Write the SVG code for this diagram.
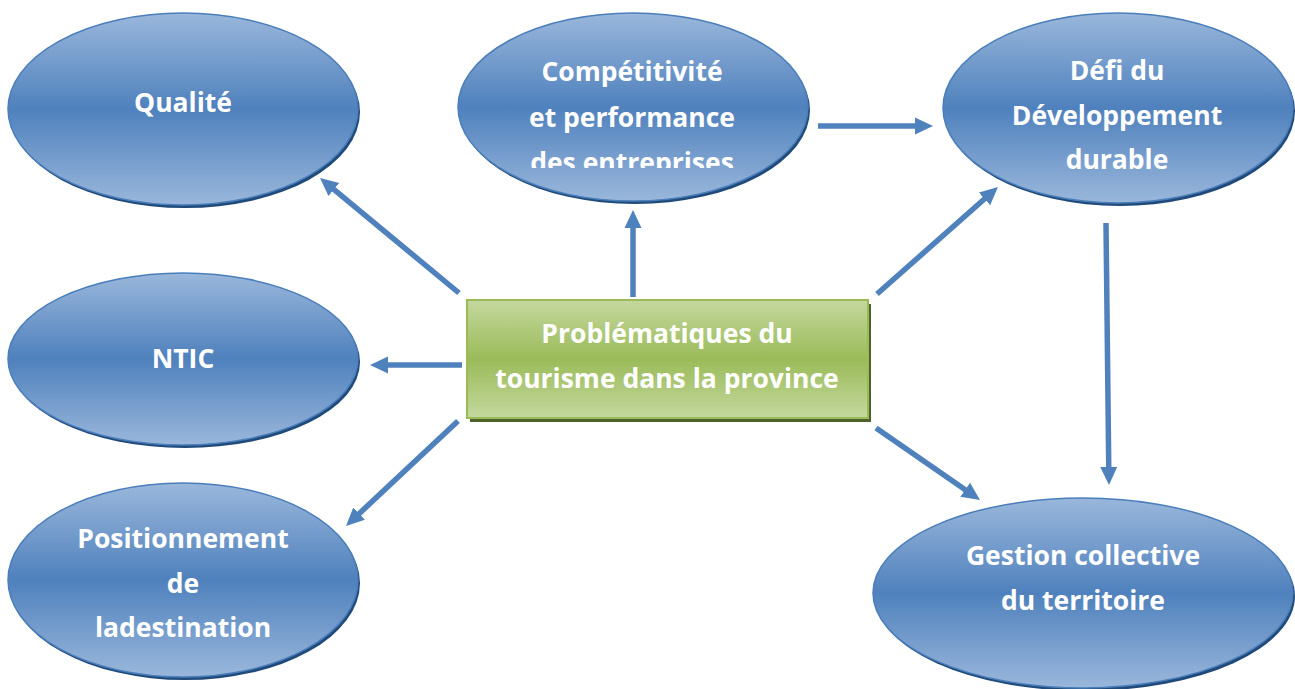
<svg xmlns="http://www.w3.org/2000/svg" width="1295" height="689" viewBox="0 0 1295 689">
<style>
.ell{fill:url(#blueGrad);stroke:#4a7ebb;stroke-width:1.5}
.sh{fill:#1f4a7a}
.lbl{font-family:"Open Sans","Liberation Sans",sans-serif;font-weight:700;font-size:26.5px;fill:#ffffff;text-anchor:middle}
.conn{stroke:#4f81bd;stroke-width:5.5;fill:none;marker-end:url(#head)}
</style>
<defs>
<linearGradient id="blueGrad" x1="0" y1="0" x2="0" y2="1">
<stop offset="0" stop-color="#9ab7db"/>
<stop offset="0.5" stop-color="#4f81bd"/>
<stop offset="1" stop-color="#9ab7db"/>
</linearGradient>
<linearGradient id="greenGrad" x1="0" y1="0" x2="0" y2="1">
<stop offset="0" stop-color="#c4d89e"/>
<stop offset="0.5" stop-color="#9bbb59"/>
<stop offset="1" stop-color="#c4d89e"/>
</linearGradient>
<marker id="head" markerUnits="userSpaceOnUse" markerWidth="20" markerHeight="20" refX="4" refY="9" orient="auto">
<path d="M0,0.5 L18,9 L0,17.5 z" fill="#4f81bd"/>
</marker>
<clipPath id="clipComp"><rect x="450" y="0" width="380" height="168"/></clipPath>
</defs>

<g id="connectors">
<line class="conn" x1="459" y1="293" x2="330.8" y2="186.9"/>
<line class="conn" x1="633" y1="297" x2="633" y2="224"/>
<line class="conn" x1="818" y1="126" x2="919" y2="126"/>
<line class="conn" x1="877" y1="294" x2="987.5" y2="196.3"/>
<line class="conn" x1="462" y1="365" x2="384" y2="365"/>
<line class="conn" x1="458" y1="421" x2="356.2" y2="516.4"/>
<line class="conn" x1="876" y1="428" x2="968.5" y2="492"/>
<line class="conn" x1="1106" y1="223" x2="1108.8" y2="471"/>
</g>

<g id="qualite">
<ellipse class="sh" cx="185" cy="112" rx="175" ry="96"/>
<ellipse class="ell" cx="183" cy="109" rx="175" ry="96"/>
<text class="lbl" x="183" y="112">Qualité</text>
</g>

<g id="competitivite">
<ellipse class="sh" cx="635" cy="110" rx="175" ry="94"/>
<ellipse class="ell" cx="633" cy="107" rx="175" ry="94"/>
<g clip-path="url(#clipComp)">
<text class="lbl" x="632" y="81">Compétitivité</text>
<text class="lbl" x="632" y="127">et performance</text>
<text class="lbl" x="632" y="172">des entreprises</text>
</g>
</g>

<g id="defi">
<ellipse class="sh" cx="1120" cy="111" rx="175" ry="95"/>
<ellipse class="ell" cx="1118" cy="108" rx="175" ry="95"/>
<text class="lbl" x="1117" y="80">Défi du</text>
<text class="lbl" x="1117" y="125">Développement</text>
<text class="lbl" x="1117" y="169">durable</text>
</g>

<g id="ntic">
<ellipse class="sh" cx="185" cy="362" rx="175" ry="86"/>
<ellipse class="ell" cx="183" cy="359" rx="175" ry="86"/>
<text class="lbl" x="183" y="368">NTIC</text>
</g>

<g id="positionnement">
<ellipse class="sh" cx="185" cy="583" rx="175" ry="97"/>
<ellipse class="ell" cx="183" cy="580" rx="175" ry="97"/>
<text class="lbl" x="183" y="548">Positionnement</text>
<text class="lbl" x="183" y="593">de</text>
<text class="lbl" x="183" y="637">ladestination</text>
</g>

<g id="gestion">
<ellipse class="sh" cx="1085" cy="596" rx="210" ry="95"/>
<ellipse class="ell" cx="1083" cy="593" rx="210" ry="95"/>
<text class="lbl" x="1083" y="565">Gestion collective</text>
<text class="lbl" x="1083" y="610">du territoire</text>
</g>

<g id="problematiques">
<rect x="470" y="304" width="401" height="118" fill="#4f6228"/>
<rect x="467" y="300" width="401" height="118" fill="url(#greenGrad)" stroke="#9bbb59" stroke-width="2"/>
<text class="lbl" x="667" y="343">Problématiques du</text>
<text class="lbl" x="667" y="388">tourisme dans la province</text>
</g>
</svg>
